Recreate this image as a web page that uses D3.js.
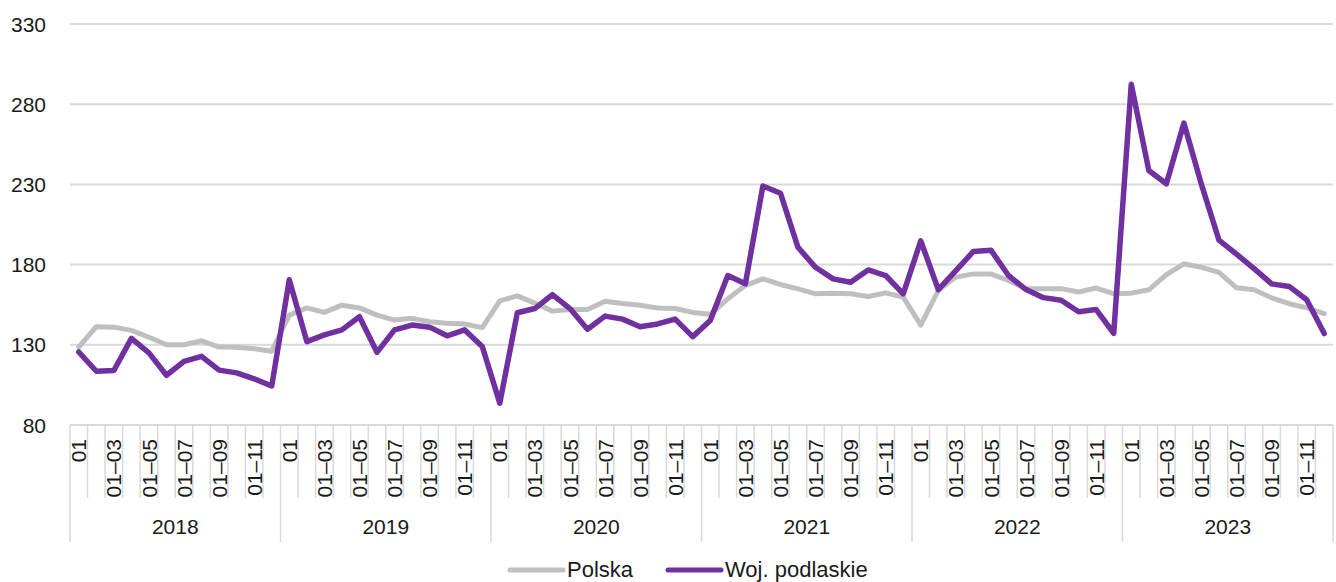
<!DOCTYPE html>
<html>
<head>
<meta charset="utf-8">
<script src="https://cdn.jsdelivr.net/npm/d3@7"></script>
<style>
  body { margin: 0; background: #fff; }
  text { font-family: "Liberation Sans", Arial, sans-serif; fill: #1a1a1a; }
</style>
</head>
<body>
<div id="chart"></div>
<script>
// chart data
var years = ["2018", "2019", "2020", "2021", "2022", "2023"];
var monthLabels = ["01", "", "01–03", "", "01–05", "", "01–07", "", "01–09", "", "01–11", ""];
var yTicks = [80, 130, 180, 230, 280, 330];

var polska = [
  128.6, 141.3, 141.0, 139.0, 134.7, 130.0, 130.0, 132.5, 128.6, 128.4, 127.5, 126.0,
  148.5, 153.0, 150.2, 154.7, 153.0, 148.5, 145.4, 146.5, 144.4, 143.4, 143.0, 140.7,
  157.4, 160.5, 156.0, 151.0, 152.0, 152.0, 157.2, 155.7, 154.7, 153.0, 152.6, 150.2,
  149.0, 158.7, 167.0, 171.1, 167.6, 164.9, 161.8, 162.2, 161.8, 160.1, 162.4, 159.7,
  142.3, 164.0, 172.2, 174.2, 174.2, 170.1, 165.0, 165.0, 165.0, 162.9, 165.4, 161.9,
  162.2, 164.3, 173.8, 180.4, 178.3, 175.2, 165.5, 164.3, 159.3, 155.6, 153.1, 149.4
];
var podlaskie = [
  125.5, 113.5, 114.0, 134.0, 125.0, 111.0, 119.7, 122.8, 114.2, 112.5, 108.8, 104.3,
  170.5, 132.0, 136.2, 139.3, 147.5, 125.3, 139.3, 142.3, 141.0, 135.6, 139.3, 129.0,
  93.6, 150.0, 152.6, 161.3, 152.6, 139.7, 147.9, 146.0, 141.3, 143.0, 146.0, 135.1,
  145.2, 173.2, 168.0, 229.0, 224.5, 190.8, 178.3, 171.1, 169.0, 176.7, 173.2, 161.8,
  194.8, 164.4, 176.3, 188.2, 189.0, 173.2, 164.4, 159.4, 157.8, 150.6, 152.0, 137.2,
  292.4, 238.7, 230.4, 268.2, 230.0, 195.3, 186.5, 177.5, 168.0, 166.4, 158.1, 137.0
];

var width = 1336, height = 582;
var plotLeft = 70, plotRight = 1333, plotTop = 24, plotBottom = 425;

var svg = d3.select("#chart").append("svg")
  .attr("width", width)
  .attr("height", height);

var idx = d3.range(polska.length);

var x = d3.scaleBand()
  .domain(idx)
  .range([plotLeft, plotRight])
  .padding(0);

var y = d3.scaleLinear()
  .domain([80, 330])
  .range([plotBottom, plotTop]);

// horizontal grid
svg.append("g")
  .selectAll("line")
  .data(yTicks)
  .enter()
  .append("line")
  .attr("x1", plotLeft)
  .attr("x2", plotRight)
  .attr("y1", function(d) { return y(d); })
  .attr("y2", function(d) { return y(d); })
  .attr("stroke", "#d9d9d9")
  .attr("stroke-width", 2);

// y labels
svg.append("g")
  .selectAll("text")
  .data(yTicks)
  .enter()
  .append("text")
  .attr("x", 46)
  .attr("y", function(d) { return y(d); })
  .attr("dy", "0.36em")
  .attr("text-anchor", "end")
  .attr("font-size", "21px")
  .text(function(d) { return d; });

// month ticks (boundaries between categories)
var bounds = d3.range(polska.length + 1);
svg.append("g")
  .selectAll("line")
  .data(bounds)
  .enter()
  .append("line")
  .attr("x1", function(i) { return i < polska.length ? x(i) : plotRight; })
  .attr("x2", function(i) { return i < polska.length ? x(i) : plotRight; })
  .attr("y1", plotBottom)
  .attr("y2", function(i) { return i % 12 === 0 ? 542 : 498; })
  .attr("stroke", "#d9d9d9")
  .attr("stroke-width", 1.5);

// month labels
svg.append("g")
  .selectAll("text")
  .data(idx.filter(function(i) { return monthLabels[i % 12] !== ""; }))
  .enter()
  .append("text")
  .attr("transform", function(i) {
    return "translate(" + (x(i) + x.bandwidth() / 2) + ",439) rotate(-90)";
  })
  .attr("dy", "0.36em")
  .attr("text-anchor", "end")
  .attr("font-size", "21px")
  .text(function(i) { return monthLabels[i % 12]; });

// year labels
svg.append("g")
  .selectAll("text")
  .data(years)
  .enter()
  .append("text")
  .attr("x", function(d, k) { return (x(k * 12) + (k === years.length - 1 ? plotRight : x(k * 12 + 12))) / 2; })
  .attr("y", 526)
  .attr("dy", "0.36em")
  .attr("text-anchor", "middle")
  .attr("font-size", "21px")
  .text(function(d) { return d; });

// lines
var line = function(values) {
  return d3.line()
    .x(function(d, i) { return x(i) + x.bandwidth() / 2; })
    .y(function(d) { return y(d); })(values);
};

svg.append("path")
  .attr("d", line(polska))
  .attr("fill", "none")
  .attr("stroke", "#bfbfbf")
  .attr("stroke-width", 5)
  .attr("stroke-linejoin", "round")
  .attr("stroke-linecap", "round");

svg.append("path")
  .attr("d", line(podlaskie))
  .attr("fill", "none")
  .attr("stroke", "#7030a0")
  .attr("stroke-width", 5.5)
  .attr("stroke-linejoin", "round")
  .attr("stroke-linecap", "round");

// legend
var legend = [
  {name: "Polska", color: "#bfbfbf", x: 510},
  {name: "Woj. podlaskie", color: "#7030a0", x: 668}
];
var lg = svg.append("g").selectAll("g")
  .data(legend)
  .enter()
  .append("g")
  .attr("transform", function(d) { return "translate(" + d.x + ",570)"; });
lg.append("line")
  .attr("x1", 0).attr("x2", 53)
  .attr("stroke", function(d) { return d.color; })
  .attr("stroke-width", 5)
  .attr("stroke-linecap", "round");
lg.append("text")
  .attr("x", 57)
  .attr("dy", "0.34em")
  .attr("font-size", "22px")
  .text(function(d) { return d.name; });
</script>
</body>
</html>
